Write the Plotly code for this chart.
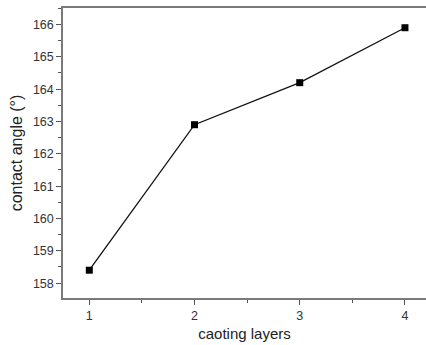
import plotly.graph_objects as go

layers = [1, 2, 3, 4]
contact_angle = [158.4, 162.9, 164.2, 165.9]
x_ticks = [1, 2, 3, 4]
y_ticks = [158, 159, 160, 161, 162, 163, 164, 165, 166]

fig = go.Figure()
fig.add_trace(go.Scatter(
    x=layers, y=contact_angle, mode="lines+markers",
    line=dict(color="#111111", width=1.3),
    marker=dict(symbol="square", size=7, color="#000000"),
    showlegend=False,
))

axis_common = dict(
    showline=True, linecolor="#7a7a7a", linewidth=1.5,
    ticks="outside", ticklen=5, tickwidth=1.2, tickcolor="#555555",
    showgrid=False, zeroline=False,
    tickfont=dict(family="Liberation Sans, Arial", size=12.5, color="#333333"),
)

fig.update_layout(
    width=426, height=345,
    margin=dict(l=63, r=0, t=8, b=47),
    paper_bgcolor="white", plot_bgcolor="white",
    xaxis=dict(
        range=[0.75, 4.2], tickvals=x_ticks, mirror=True,
        minor=dict(dtick=0.5, ticks="outside", ticklen=3, tickcolor="#555555"),
        title=dict(text="caoting layers", standoff=7,
                   font=dict(family="Liberation Sans, Arial", size=15, color="#222222")),
        **axis_common,
    ),
    yaxis=dict(
        range=[157.54, 166.51], tickvals=y_ticks, mirror=False,
        minor=dict(dtick=0.5, ticks="outside", ticklen=3, tickcolor="#555555"),
        title=dict(text="contact angle (°)", standoff=6,
                   font=dict(family="Liberation Sans, Arial", size=16, color="#222222")),
        **axis_common,
    ),
)

fig.write_html("out.html")
